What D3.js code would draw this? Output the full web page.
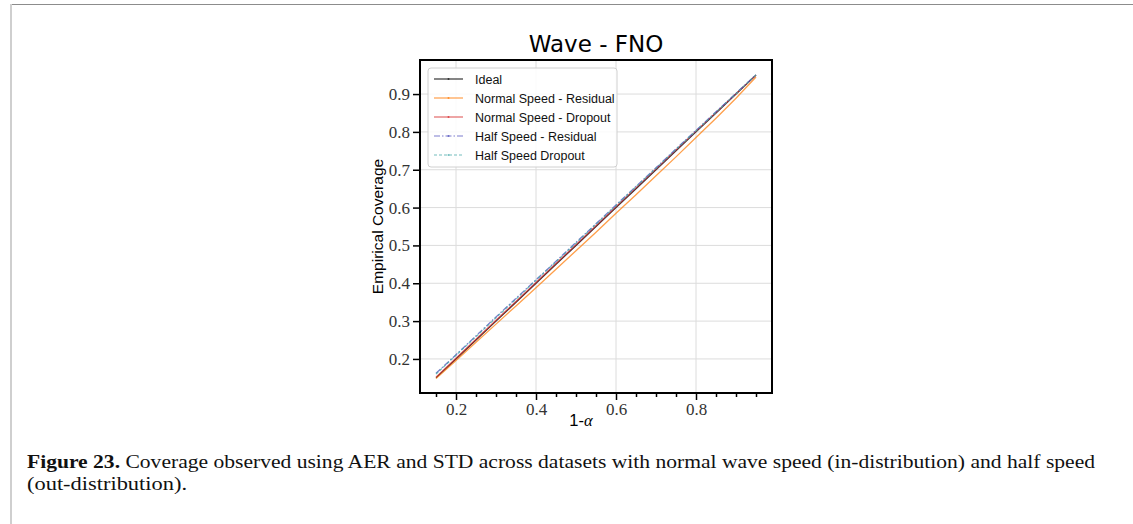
<!DOCTYPE html>
<html>
<head>
<meta charset="utf-8">
<script src="https://cdn.jsdelivr.net/npm/d3@7"></script>
<style>
  body { margin: 0; background: #fff; }
  svg { display: block; }
</style>
</head>
<body>
<div id="chart"></div>
<script>
'use strict';
// 1 - alpha levels
var levels = [0.15, 0.20, 0.25, 0.30, 0.35, 0.40, 0.45, 0.50, 0.55, 0.60, 0.65, 0.70, 0.75, 0.80, 0.85, 0.90, 0.95];
var ideal = [0.15, 0.20, 0.25, 0.30, 0.35, 0.40, 0.45, 0.50, 0.55, 0.60, 0.65, 0.70, 0.75, 0.80, 0.85, 0.90, 0.95];
var normalResidual = [0.148, 0.196, 0.244, 0.292, 0.340, 0.388, 0.437, 0.486, 0.535, 0.585, 0.634, 0.684, 0.734, 0.785, 0.836, 0.889, 0.945];
var normalDropout = [0.152, 0.202, 0.252, 0.302, 0.352, 0.402, 0.452, 0.502, 0.552, 0.602, 0.652, 0.702, 0.752, 0.802, 0.851, 0.901, 0.950];
var halfResidual = [0.162, 0.211, 0.261, 0.311, 0.360, 0.409, 0.458, 0.508, 0.557, 0.607, 0.656, 0.705, 0.755, 0.804, 0.853, 0.902, 0.951];
var halfDropout = [0.160, 0.210, 0.259, 0.309, 0.358, 0.408, 0.457, 0.506, 0.556, 0.605, 0.655, 0.704, 0.754, 0.803, 0.852, 0.901, 0.951];

var seriesNames = ["Ideal", "Normal Speed - Residual", "Normal Speed - Dropout", "Half Speed - Residual", "Half Speed Dropout"];
var xTicks = [0.2, 0.4, 0.6, 0.8];
var xMinorTicks = [0.15, 0.25, 0.3, 0.35, 0.45, 0.5, 0.55, 0.65, 0.7, 0.75, 0.85, 0.9, 0.95];
var yTicks = [0.2, 0.3, 0.4, 0.5, 0.6, 0.7, 0.8, 0.9];

var series = [
    {name: seriesNames[0], values: ideal, color: "#333333", dash: null},
    {name: seriesNames[1], values: normalResidual, color: "rgba(255,127,14,0.75)", dash: null},
    {name: seriesNames[2], values: normalDropout, color: "rgba(214,39,40,0.7)", dash: null},
    {name: seriesNames[3], values: halfResidual, color: "rgba(80,80,190,0.75)", dash: "6,2,1.5,2"},
    {name: seriesNames[4], values: halfDropout, color: "rgba(70,170,170,0.75)", dash: "3,2"}
];

var width = 1133, height = 524;
var plot = {left: 420, right: 772, top: 60, bottom: 393};

var svg = d3.select("#chart").append("svg")
    .attr("width", width)
    .attr("height", height);

// page frame
svg.append("line").attr("x1", 10).attr("x2", width).attr("y1", 4.5).attr("y2", 4.5)
    .attr("stroke", "#8c8c8c").attr("stroke-width", 1.2);
svg.append("line").attr("x1", 11).attr("x2", 11).attr("y1", 4).attr("y2", height)
    .attr("stroke", "#cfcfcf").attr("stroke-width", 2);

var x = d3.scaleLinear().domain([0.11, 0.99]).range([plot.left, plot.right]);
var y = d3.scaleLinear().domain([0.11, 0.99]).range([plot.bottom, plot.top]);

// grid
svg.append("g").selectAll("line").data(xTicks).enter().append("line")
    .attr("x1", function (d) { return x(d); })
    .attr("x2", function (d) { return x(d); })
    .attr("y1", plot.top).attr("y2", plot.bottom)
    .attr("stroke", "#dcdcdc").attr("stroke-width", 1);
svg.append("g").selectAll("line").data(yTicks).enter().append("line")
    .attr("y1", function (d) { return y(d); })
    .attr("y2", function (d) { return y(d); })
    .attr("x1", plot.left).attr("x2", plot.right)
    .attr("stroke", "#dcdcdc").attr("stroke-width", 1);

// lines
var line = d3.line()
    .x(function (d, i) { return x(levels[i]); })
    .y(function (d) { return y(d); });

series.forEach(function (s) {
    svg.append("path")
        .datum(s.values)
        .attr("fill", "none")
        .attr("stroke", s.color)
        .attr("stroke-width", 1.3)
        .attr("stroke-dasharray", s.dash)
        .attr("d", line);
});

// axes
var xAxis = svg.append("g")
    .attr("transform", "translate(0," + plot.bottom + ")")
    .call(d3.axisBottom(x).tickValues(xTicks).tickFormat(d3.format(".1f")).tickSize(7).tickPadding(3));
var xMinor = svg.append("g")
    .attr("transform", "translate(0," + plot.bottom + ")")
    .call(d3.axisBottom(x).tickValues(xMinorTicks).tickFormat("").tickSize(4));
var yAxis = svg.append("g")
    .attr("transform", "translate(" + plot.left + ",0)")
    .call(d3.axisLeft(y).tickValues(yTicks).tickFormat(d3.format(".1f")).tickSize(7).tickPadding(3));

[xAxis, xMinor, yAxis].forEach(function (g) {
    g.select(".domain").remove();
    g.selectAll(".tick line").attr("stroke", "#000").attr("stroke-width", 1.5);
    g.selectAll(".tick text")
        .attr("fill", "#333")
        .style("font-family", "'Liberation Serif', serif")
        .style("font-size", "17px");
});

// spines
svg.append("rect")
    .attr("x", plot.left).attr("y", plot.top)
    .attr("width", plot.right - plot.left).attr("height", plot.bottom - plot.top)
    .attr("fill", "none").attr("stroke", "#000").attr("stroke-width", 2);

// title and labels
svg.append("text")
    .attr("x", (plot.left + plot.right) / 2).attr("y", 52)
    .attr("text-anchor", "middle")
    .style("font-family", "'DejaVu Sans', sans-serif").style("font-size", "23px")
    .text("Wave - FNO");

svg.append("text")
    .attr("transform", "translate(383," + ((plot.top + plot.bottom) / 2) + ") rotate(-90)")
    .attr("text-anchor", "middle")
    .style("font-family", "'Liberation Sans', sans-serif").style("font-size", "15.5px")
    .text("Empirical Coverage");

var xl = svg.append("text")
    .attr("x", 581).attr("y", 426)
    .attr("text-anchor", "middle")
    .style("font-family", "'Liberation Sans', sans-serif").style("font-size", "16.5px");
xl.append("tspan").text("1-");
xl.append("tspan").style("font-family", "'Liberation Serif', serif").style("font-style", "italic").text("α");

// legend
var legend = svg.append("g").attr("transform", "translate(428,68)");
legend.append("rect")
    .attr("width", 189).attr("height", 99).attr("rx", 3)
    .attr("fill", "rgba(255,255,255,0.85)").attr("stroke", "#d0d0d0").attr("stroke-width", 1);
var items = legend.selectAll(".item").data(series).enter().append("g")
    .attr("transform", function (d, i) { return "translate(0," + (11 + i * 19) + ")"; });
items.append("line")
    .attr("x1", 6).attr("x2", 35).attr("y1", 0).attr("y2", 0)
    .attr("stroke", function (d) { return d.color; })
    .attr("stroke-width", 1.2)
    .attr("stroke-dasharray", function (d) { return d.dash; });
items.append("circle")
    .attr("cx", 20.5).attr("cy", 0).attr("r", 1)
    .attr("fill", function (d) { return d.color; });
items.append("text")
    .attr("x", 47).attr("y", 4.5)
    .style("font-family", "'Liberation Sans', sans-serif").style("font-size", "12.5px")
    .attr("fill", "#111")
    .text(function (d) { return d.name; });

// caption
var caption = svg.append("text")
    .attr("x", 27).attr("y", 468)
    .attr("textLength", 1068).attr("lengthAdjust", "spacingAndGlyphs")
    .style("font-family", "'Liberation Serif', serif").style("font-size", "19px")
    .attr("fill", "#111");
caption.append("tspan").attr("font-weight", "bold").text("Figure 23.");
caption.append("tspan").text(" Coverage observed using AER and STD across datasets with normal wave speed (in-distribution) and half speed");
svg.append("text")
    .attr("x", 27).attr("y", 490)
    .attr("textLength", 160).attr("lengthAdjust", "spacingAndGlyphs")
    .style("font-family", "'Liberation Serif', serif").style("font-size", "19px")
    .attr("fill", "#111")
    .text("(out-distribution).");
</script>
</body>
</html>
